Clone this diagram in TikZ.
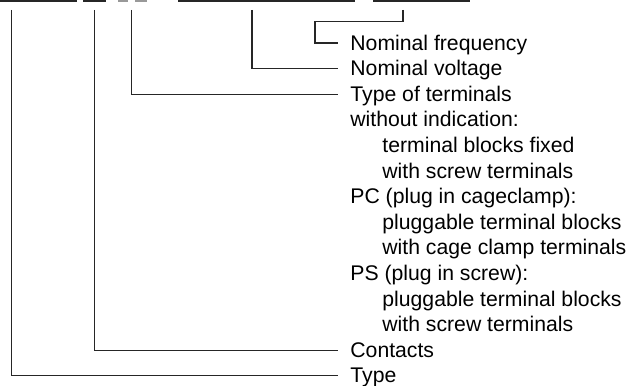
\documentclass[tikz,border=0pt]{standalone}
\usepackage{fontspec}
\setmainfont{Liberation Sans}
\usepackage{tikz}
\tikzset{
  leader/.style  = {black!85,line width=0.65pt},
  codebar/.style = {fill=black!85},
  greybar/.style = {fill=black!40},
  legend/.style  = {anchor=west,inner xsep=6pt,inner ysep=0pt,
                    text height=0.716em,text depth=0pt,
                    font=\fontsize{10.6}{12.8}\selectfont},
  sublegend/.style = {legend,xshift=16pt}
}

\begin{document}
\begin{tikzpicture}[x=0.5pt,y=-0.5pt]
  \useasboundingbox (0,0) rectangle (630,385);
  % underlines of the type code
  \fill[codebar] (0,0)   rectangle (77,1.6);
  \fill[codebar] (83,0)  rectangle (106,1.6);
  \fill[greybar] (118,0) rectangle (128,1.6);
  \fill[greybar] (135,0) rectangle (147,1.6);
  \fill[codebar] (178,0) rectangle (355,1.6);
  \fill[codebar] (373,0) rectangle (470,1.6);
  % legend
  \node[legend]    (nf)  at (338,43)    {Nominal frequency};
  \node[legend]    (nv)  at (338,68.6)  {Nominal voltage};
  \node[legend]    (tt)  at (338,94.2)  {Type of terminals};
  \node[legend]    (wi)  at (338,119.8) {without indication:};
  \node[sublegend] (wi1) at (338,145.4) {terminal blocks fixed};
  \node[sublegend] (wi2) at (338,171)   {with screw terminals};
  \node[legend]    (pc)  at (338,196.6) {PC (plug in cageclamp):};
  \node[sublegend] (pc1) at (338,222.2) {pluggable terminal blocks};
  \node[sublegend] (pc2) at (338,247.8) {with cage clamp terminals};
  \node[legend]    (ps)  at (338,273.4) {PS (plug in screw):};
  \node[sublegend] (ps1) at (338,299)   {pluggable terminal blocks};
  \node[sublegend] (ps2) at (338,324.6) {with screw terminals};
  \node[legend]    (ct)  at (338,350.2) {Contacts};
  \node[legend]    (ty)  at (338,375.8) {Type};
  % leaders
  \coordinate (nftop) at (403,10);
  \coordinate (nvtop) at (252,10);
  \coordinate (tttop) at (131.5,10);
  \coordinate (cttop) at (94.5,10);
  \coordinate (tytop) at (11.5,10);
  \draw[leader] (nftop) |- ++(-88,11.7) |- (nf.west);
  \draw[leader] (nvtop) |- (nv.west);
  \draw[leader] (tttop) |- (tt.west);
  \draw[leader] (cttop) |- (ct.west);
  \draw[leader] (tytop) |- (ty.west);
\end{tikzpicture}
\end{document}
